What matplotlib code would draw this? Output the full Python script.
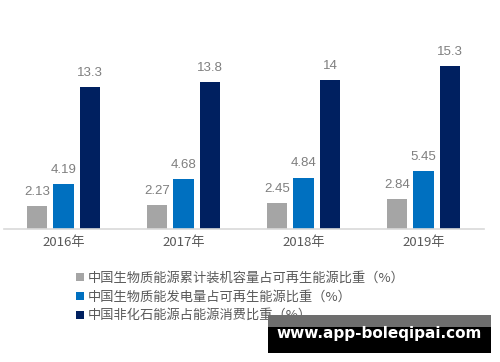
import numpy as np
import matplotlib.pyplot as plt
from matplotlib.patches import Rectangle

plt.rcParams['font.family'] = ['Noto Sans CJK SC', 'DejaVu Sans']

years = ['2016年', '2017年', '2018年', '2019年']
capacity_share = [2.13, 2.27, 2.45, 2.84]
generation_share = [4.19, 4.68, 4.84, 5.45]
nonfossil_share = [13.3, 13.8, 14, 15.3]
value_labels = [['2.13', '2.27', '2.45', '2.84'],
                ['4.19', '4.68', '4.84', '5.45'],
                ['13.3', '13.8', '14', '15.3']]
series_names = ['中国生物质能源累计装机容量占可再生能源比重（%）',
                '中国生物质能发电量占可再生能源比重（%）',
                '中国非化石能源占能源消费比重（%）']
colors = ['#A5A5A5', '#0070C0', '#002060']

fig = plt.figure(figsize=(5, 3.62), dpi=100)
ax = fig.add_axes([0.007, 0.367, 0.96, 0.53])

x = np.arange(len(years))
width = 0.17
step = 0.22
handles = []
for i, vals in enumerate([capacity_share, generation_share, nonfossil_share]):
    bars = ax.bar(x + (i - 1) * step, vals, width, color=colors[i],
                  label=series_names[i])
    handles.append(bars)
    for b, lab in zip(bars, value_labels[i]):
        ax.annotate(lab, (b.get_x() + b.get_width() / 2, b.get_height()),
                    xytext=(0, 6), textcoords='offset points',
                    ha='center', va='bottom', fontsize=9.5, color='#7F7F7F',
                    family='Liberation Sans')

ax.set_xlim(-0.5, 3.5)
ax.set_ylim(0, 18)
ax.set_xticks(x)
ax.set_xticklabels(years, fontsize=9.5, color='#595959')
ax.tick_params(axis='x', length=0, pad=5)
ax.set_yticks([])
for s in ['top', 'right', 'left']:
    ax.spines[s].set_visible(False)
ax.spines['bottom'].set_color('#D9D9D9')
ax.spines['bottom'].set_linewidth(1.2)

fig.legend(handles=handles, loc='upper left', bbox_to_anchor=(0.142, 0.265),
           frameon=False, fontsize=9.5, labelcolor='#595959',
           handlelength=0.55, handleheight=0.55, handletextpad=0.3,
           labelspacing=0.45, borderaxespad=0)

# watermark
fig.patches.append(Rectangle((0.536, 0.025), 0.446, 0.105, transform=fig.transFigure,
                             facecolor='black', edgecolor='none', zorder=5))
fig.patches.append(Rectangle((0.536, 0.097), 0.446, 0.033, transform=fig.transFigure,
                             facecolor='#6E6E6E', edgecolor='none', zorder=6))
fig.text(0.759, 0.078, 'www.app-boleqipai.com', ha='center', va='center',
         fontsize=11, fontweight='bold', color='white', family='DejaVu Sans', zorder=7)

fig.savefig('out.png', dpi=100)
